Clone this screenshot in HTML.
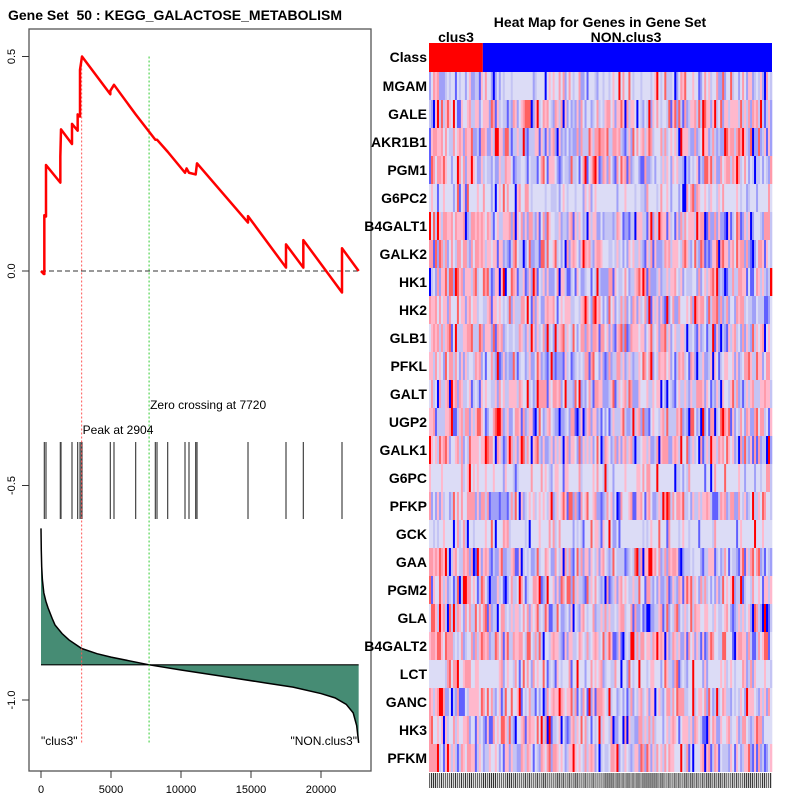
<!DOCTYPE html>
<html><head><meta charset="utf-8"><style>
body{margin:0;background:#fff}
svg{display:block;font-family:"Liberation Sans",sans-serif}
</style></head><body>
<svg id="c" width="800" height="800" viewBox="0 0 800 800"></svg>
<script>
// ---- data ----
const esRanks=[0,200,238,238,357,357,1381,1381,1429,2214,2214,2619,2619,2786,2786,2929,4952,4952,5214,6762,8167,8286,9048,10286,10400,10571,11048,11143,14786,14786,17500,17500,18738,18738,21500,21500,22690];
const esValues=[0,-0.007,-0.007,0.13,0.127,0.247,0.206,0.267,0.33,0.296,0.343,0.327,0.365,0.36,0.469,0.5,0.412,0.42,0.434,0.365,0.306,0.306,0.278,0.229,0.239,0.229,0.225,0.251,0.113,0.128,0.008,0.062,0.008,0.072,-0.05,0.053,0];
const hitRanks=[238,357,1381,1429,2214,2619,2786,2881,2929,4952,5214,6762,8167,8286,9048,10286,10571,11048,11143,14786,17500,18738,21500];
const metricRanks=[0,20,50,100,200,350,500,800,1000,1500,2000,2904,4000,5000,7720,10000,13000,16000,18000,20000,21000,21800,22300,22550,22690];
const metricValues=[-0.6,-0.65,-0.69,-0.72,-0.75,-0.77,-0.785,-0.81,-0.825,-0.845,-0.86,-0.88,-0.892,-0.90,-0.918,-0.93,-0.945,-0.96,-0.97,-0.985,-0.995,-1.01,-1.03,-1.06,-1.1];
const xTicks=[0,5000,10000,15000,20000];
const yTicks=[0.5,0.0,-0.5,-1.0];
const yTickLabels=["0.5","0.0","-0.5","-1.0"];
const genes=["MGAM","GALE","AKR1B1","PGM1","G6PC2","B4GALT1","GALK2","HK1","HK2","GLB1","PFKL","GALT","UGP2","GALK1","G6PC","PFKP","GCK","GAA","PGM2","GLA","B4GALT2","LCT","GANC","HK3","PFKM"];
const rowStrength=[0.55,0.9,0.9,0.8,0.4,0.9,0.85,0.85,0.8,0.85,0.8,0.85,0.9,0.85,0.35,0.8,0.3,0.85,0.85,0.8,0.85,0.45,0.75,0.75,0.8];
const peakRank=2904, zeroRank=7720, baseline=-0.918;
// ---- scales ----
const X=r=>41+r*0.014;
const Y=v=>271-v*429;
const svg=document.getElementById('c');
const NS='http://www.w3.org/2000/svg';
function mk(t,a,p){const e=document.createElementNS(NS,t);for(const k in a)e.setAttribute(k,a[k]);(p||svg).appendChild(e);return e;}
let f=mk('rect',{x:29,y:29,width:342,height:742,fill:'none',stroke:'#555','stroke-width':1.3});

let t=mk('text',{x:8,y:20,'font-size':14,'font-weight':'bold'});t.textContent='Gene Set\u00a0 50 : KEGG_GALACTOSE_METABOLISM';

xTicks.forEach(v=>{mk('line',{x1:X(v),x2:X(v),y1:771,y2:778,stroke:'#333'});
 let l=mk('text',{x:X(v),y:793,'font-size':11,'text-anchor':'middle'});l.textContent=v;
 });
yTicks.forEach((v,i)=>{mk('line',{x1:22,x2:29,y1:Y(v),y2:Y(v),stroke:'#333'});
 let l=mk('text',{x:0,y:0,'font-size':11,'text-anchor':'middle',transform:`translate(15,${Y(v)}) rotate(-90)`});l.textContent=yTickLabels[i];
 });
let d=`M${X(metricRanks[0])},${Y(baseline)}`;
metricRanks.forEach((r,i)=>d+=`L${X(r)},${Y(metricValues[i])}`);
d+=`L${X(metricRanks[metricRanks.length-1])},${Y(baseline)}Z`;
let m=mk('path',{d,fill:'#468c74',stroke:'none'});
let ml=mk('polyline',{points:metricRanks.map((r,i)=>X(r)+','+Y(metricValues[i])).join(' '),fill:'none',stroke:'#000','stroke-width':1.5});

let bl=mk('line',{x1:X(0),x2:X(22690),y1:Y(baseline),y2:Y(baseline),stroke:'#000','stroke-width':1.2});

hitRanks.forEach(r=>{let h=mk('line',{x1:X(r),x2:X(r),y1:442,y2:519,stroke:'#444','stroke-width':1.2});
 });
let z=mk('line',{x1:X(0),x2:X(22690),y1:Y(0),y2:Y(0),stroke:'#333','stroke-dasharray':'5,3'});

let pv=mk('line',{x1:X(peakRank),x2:X(peakRank),y1:Y(0.5),y2:744,stroke:'#f55','stroke-dasharray':'2,2'});

let zv=mk('line',{x1:X(zeroRank),x2:X(zeroRank),y1:Y(0.5),y2:744,stroke:'#3c3','stroke-dasharray':'2,2'});

let es=mk('polyline',{points:esRanks.map((r,i)=>X(r)+','+Y(esValues[i])).join(' '),fill:'none',stroke:'#f00','stroke-width':2.5,'stroke-linejoin':'round'});

[[X(zeroRank)+1,409,'Zero crossing at '+zeroRank,'zero-crossing-label'],[X(peakRank)+1,434,'Peak at '+peakRank,'peak-label'],[41,745,'"clus3"','clus3-label'],[357,745,'"NON.clus3"','non-clus3-label']].forEach((a,i)=>{
 let l=mk('text',{x:a[0],y:a[1],'font-size':12,'text-anchor':i==3?'end':'start'});l.textContent=a[2];
 });
// ---- heatmap ----
const hx=429,hw=343,nCol=172,cw=hw/nCol,nClus=27;
let ht=mk('text',{x:600,y:27,'font-size':14,'font-weight':'bold','text-anchor':'middle'});ht.textContent='Heat Map for Genes in Gene Set';

let c1=mk('text',{x:456,y:42,'font-size':14,'font-weight':'bold','text-anchor':'middle'});c1.textContent='clus3';

let c2=mk('text',{x:626,y:42,'font-size':14,'font-weight':'bold','text-anchor':'middle'});c2.textContent='NON.clus3';

let cr=mk('rect',{x:hx,y:43,width:nClus*cw,height:29,fill:'#f00'});
let cb=mk('rect',{x:hx+nClus*cw,y:43,width:hw-nClus*cw,height:29,fill:'#00f'});
let cl=mk('text',{x:427,y:62,'font-size':14,'font-weight':'bold','text-anchor':'end'});cl.textContent='Class';

function hash(a,b){let h=(a*374761393+b*668265263)>>>0;h=((h^(h>>>13))*1274126177)>>>0;return ((h^(h>>>16))>>>0)/4294967296;}
const reds=['#ff0000','#ff6060','#ff9aaa','#ffb8cc'],blues=['#0000ff','#6060ff','#a0a0f8','#c4c4f4'];
function level(u){return u<0.07?0:u<0.2?1:u<0.55?2:3;}
genes.forEach((g,ri)=>{
 const y=72+ri*28;
 let bg=mk('rect',{x:hx,y,width:hw,height:28,fill:'#dcdcf6'});
 
 for(let c=0;c<nCol;c++){
  const u=hash(ri+1,c+1),s=rowStrength[ri];
  const bias=c<nClus?0.6:0.48;
  let col;
  if(hash(c+7,ri+31)>s){col='#dcdcf6';}
  else{const k=level(hash(ri*3+5,c*7+1));col=u<bias?reds[k]:blues[k];}
  const r=mk('rect',{x:hx+c*cw,y,width:cw+0.3,height:28,fill:col});
  
  
 }
 let l=mk('text',{x:427,y:y+19,'font-size':14,'font-weight':'bold','text-anchor':'end'});l.textContent=g;
 
});
for(let c=0;c<nCol;c++){const s=mk('rect',{x:hx+c*cw,y:773,width:cw*0.6,height:15,fill:hash(c,99)>0.5?'#333':'#666'});
 }
</script>
</body></html>
